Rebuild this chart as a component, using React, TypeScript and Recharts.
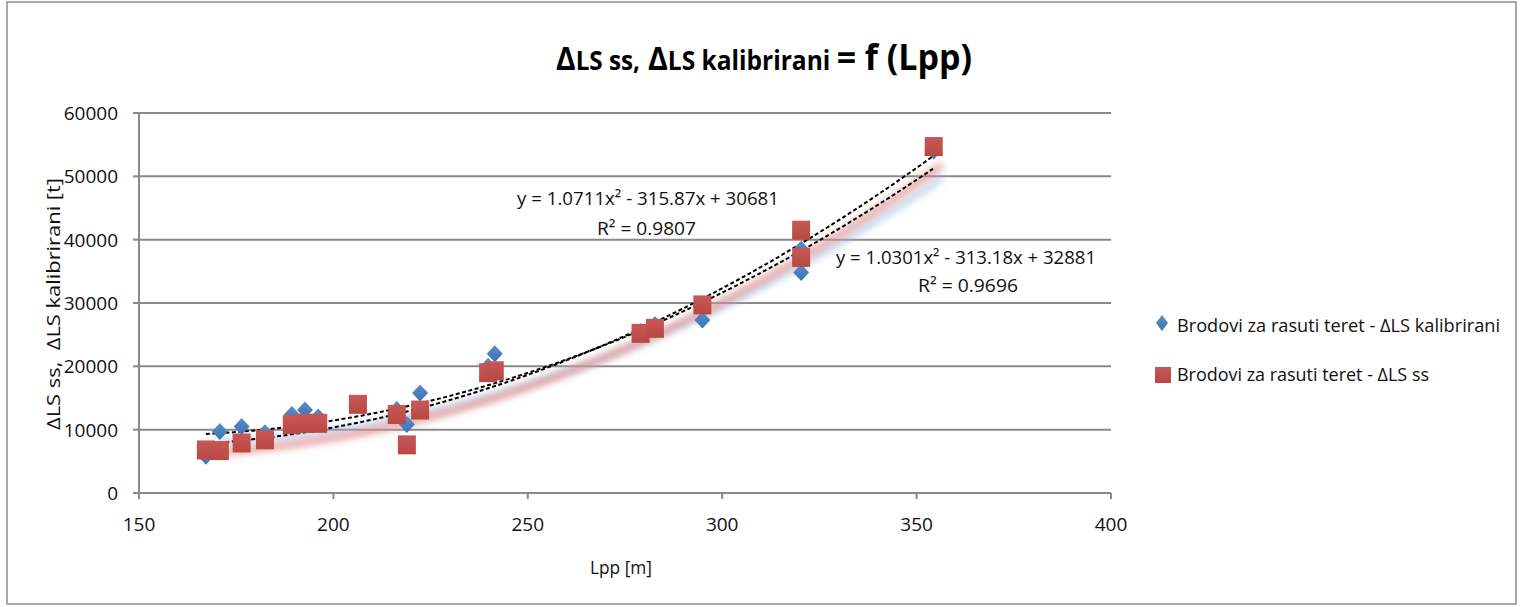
import { ComposedChart, Scatter, Line, XAxis, YAxis, CartesianGrid } from "recharts";

// Lpp [m] and light-ship displacement [t]
const lppKal = [167.2, 170.8, 176.4, 182.4, 189.3, 192.7, 196.1, 206.3, 216.3, 218.9, 222.3, 239.8, 241.5, 279, 282.7, 294.9, 320.3, 320.3, 354.4];
const lsKal = [5800, 9700, 10500, 9500, 12400, 13100, 12000, 14000, 13200, 10800, 15800, 20000, 22000, 25500, 26600, 27300, 38500, 34800, 54000];
const lppSs = [167.2, 170.8, 176.4, 182.4, 189.3, 192.7, 196.1, 206.3, 216.3, 218.9, 222.3, 239.8, 241.5, 279, 282.7, 294.9, 320.3, 320.3, 354.4];
const lsSs = [6800, 6700, 7900, 8400, 10800, 11000, 11000, 14000, 12400, 7600, 13100, 19000, 19300, 25200, 26000, 29700, 41500, 37200, 54700];

const xTicks = [150, 200, 250, 300, 350, 400];
const yTicks = [0, 10000, 20000, 30000, 40000, 50000, 60000];

// polynomial trendlines as printed on the chart (a, b, c)
const fitA = [1.0711, -315.87, 30681];
const fitB = [1.0301, -313.18, 32881];
const fitRange = [167.2, 354.4];

const eqA = ["y = 1.0711x² - 315.87x + 30681", "R² = 0.9807"];
const eqB = ["y = 1.0301x² - 313.18x + 32881", "R² = 0.9696"];
const legendNames = ["Brodovi za rasuti teret - ΔLS kalibrirani", "Brodovi za rasuti teret - ΔLS ss"];

const FONT = "'Open Sans', sans-serif";
const GRID = "#8a8a8a";

const kalData = lppKal.map((x, i) => ({ x, y: lsKal[i] }));
const ssData = lppSs.map((x, i) => ({ x, y: lsSs[i] }));

function trend(c: number[]) {
  const pts = [];
  for (let x = fitRange[0]; x <= fitRange[1] + 0.01; x += 1) {
    pts.push({ x, y: c[0] * x * x + c[1] * x + c[2] });
  }
  return pts;
}
const trendA = trend(fitA);
const trendB = trend(fitB);

const Diamond = (p: any) => (
  <path
    d={`M${p.cx},${p.cy - 8.5} L${p.cx + 8},${p.cy} L${p.cx},${p.cy + 8.5} L${p.cx - 8},${p.cy} Z`}
    fill="url(#blueFill)"
  />
);

const Square = (p: any) => (
  <rect x={p.cx - 9} y={p.cy - 9.5} width={18} height={19} fill="url(#redFill)" />
);

const YTick = ({ x, y, payload }: any) => (
  <text x={x - 13} y={y} textAnchor="end" dominantBaseline="central" fontFamily={FONT} fontSize={19} fill="#111">
    {payload.value}
  </text>
);

const XTick = ({ x, y, payload }: any) => (
  <text x={x} y={y + 23} textAnchor="middle" dominantBaseline="central" fontFamily={FONT} fontSize={19} fill="#111">
    {payload.value}
  </text>
);

const T = (props: any) => (
  <text
    fontFamily={FONT}
    fontSize={19}
    fill="#111"
    dominantBaseline="central"
    lengthAdjust="spacingAndGlyphs"
    style={{ whiteSpace: "pre" }}
    {...props}
  />
);

export default function App() {
  return (
    <div style={{ position: "absolute", left: 0, top: 0, width: 1523, height: 607, background: "#fff" }}>
      <ComposedChart
        width={1523}
        height={607}
        margin={{ top: 113, right: 412, bottom: 0, left: 0 }}
      >
        <CartesianGrid horizontal vertical={false} stroke={GRID} strokeWidth={2} />
        <XAxis
          type="number"
          dataKey="x"
          domain={[150, 400]}
          ticks={xTicks}
          allowDataOverflow
          height={114}
          tickSize={6}
          tick={<XTick />}
          axisLine={{ stroke: GRID, strokeWidth: 2 }}
          tickLine={{ stroke: GRID, strokeWidth: 2 }}
        />
        <YAxis
          type="number"
          dataKey="y"
          domain={[0, 60000]}
          ticks={yTicks}
          allowDataOverflow
          width={139}
          tickSize={6}
          tick={<YTick />}
          axisLine={{ stroke: GRID, strokeWidth: 2 }}
          tickLine={{ stroke: GRID, strokeWidth: 2 }}
        />
        <Line
          data={trendB}
          dataKey="y"
          stroke="#9bb7dd"
          strokeWidth={7}
          strokeOpacity={0.55}
          dot={false}
          filter="url(#shadow)"
          isAnimationActive={false}
        />
        <Line
          data={trendA}
          dataKey="y"
          stroke="#e08a88"
          strokeWidth={7}
          strokeOpacity={0.75}
          dot={false}
          filter="url(#shadow)"
          isAnimationActive={false}
        />
        <Scatter data={kalData} dataKey="y" shape={<Diamond />} isAnimationActive={false} />
        <Scatter data={ssData} dataKey="y" shape={<Square />} isAnimationActive={false} />
        <Line
          data={trendA}
          dataKey="y"
          stroke="#000"
          strokeWidth={2}
          strokeDasharray="4 2.5"
          dot={false}
          isAnimationActive={false}
        />
        <Line
          data={trendB}
          dataKey="y"
          stroke="#000"
          strokeWidth={2}
          strokeDasharray="4 2.5"
          dot={false}
          isAnimationActive={false}
        />
      </ComposedChart>

      <svg width={1523} height={607} style={{ position: "absolute", left: 0, top: 0, pointerEvents: "none" }}>
        <defs>
          <filter id="shadow" x="-10%" y="-10%" width="130%" height="130%">
            <feOffset dx={9} dy={9} />
            <feGaussianBlur stdDeviation={3.5} />
          </filter>
          <linearGradient id="blueFill" x1="0" y1="0" x2="0" y2="1">
            <stop offset="0" stopColor="#5a8ccb" />
            <stop offset="1" stopColor="#3f72b0" />
          </linearGradient>
          <linearGradient id="redFill" x1="0" y1="0" x2="0" y2="1">
            <stop offset="0" stopColor="#c85855" />
            <stop offset="1" stopColor="#b94845" />
          </linearGradient>
        </defs>

        <rect x={7} y={2} width={1509} height={602} fill="none" stroke="#8c8c8c" strokeWidth={1.5} />

        {/* title */}
        <g fontFamily={FONT} fontWeight={700} fill="#000" style={{ whiteSpace: "pre" }}>
          <text x={556} y={70} textLength={84} lengthAdjust="spacingAndGlyphs">
            <tspan fontSize={32}>Δ</tspan>
            <tspan fontSize={26}>LS ss,</tspan>
          </text>
          <text x={648} y={70} textLength={324} lengthAdjust="spacingAndGlyphs">
            <tspan fontSize={32}>Δ</tspan>
            <tspan fontSize={26}>LS kalibrirani </tspan>
            <tspan fontSize={36}>= f (Lpp)</tspan>
          </text>
        </g>

        {/* axis titles */}
        <T x={53} y={304} textAnchor="middle" textLength={252} transform="rotate(-90 53 304)">
          ΔLS ss,  ΔLS kalibrirani [t]
        </T>
        <T x={621} y={567} textAnchor="middle" textLength={62}>Lpp [m]</T>

        {/* trendline labels */}
        <T x={517} y={198} textLength={262}>{eqA[0]}</T>
        <T x={597} y={228} textLength={99}>{eqA[1]}</T>
        <T x={836} y={257} textLength={260}>{eqB[0]}</T>
        <T x={918} y={285} textLength={100}>{eqB[1]}</T>

        {/* legend */}
        <path d="M1162,315 L1168,323 L1162,331 L1156,323 Z" fill="url(#blueFill)" />
        <T x={1177} y={325} textLength={323}>{legendNames[0]}</T>
        <rect x={1155} y={367} width={16} height={16} fill="url(#redFill)" />
        <T x={1177} y={374} textLength={252}>{legendNames[1]}</T>
      </svg>
    </div>
  );
}
